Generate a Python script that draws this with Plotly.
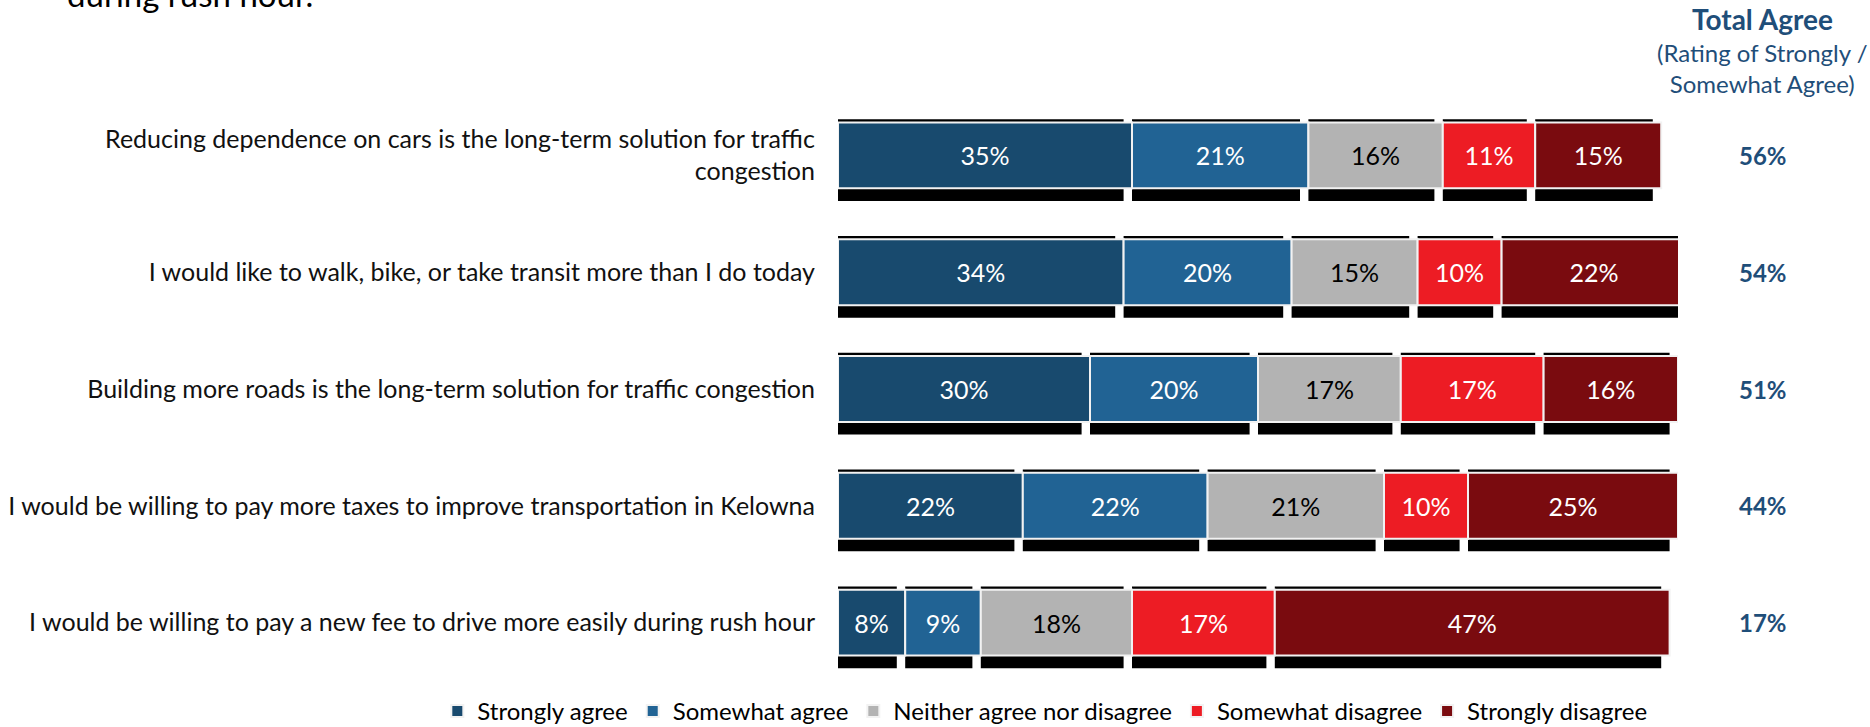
import plotly.graph_objects as go

statements = [
    "Reducing dependence on cars is the long-term solution for traffic<br>congestion",
    "I would like to walk, bike, or take transit more than I do today",
    "Building more roads is the long-term solution for traffic congestion",
    "I would be willing to pay more taxes to improve transportation in Kelowna",
    "I would be willing to pay a new fee to drive more easily during rush hour",
]
strongly_agree = [35, 34, 30, 22, 8]
somewhat_agree = [21, 20, 20, 22, 9]
neither = [16, 15, 17, 21, 18]
somewhat_disagree = [11, 10, 17, 10, 17]
strongly_disagree = [15, 22, 16, 25, 47]
total_agree = [56, 54, 51, 44, 17]

series_names = ["Strongly agree", "Somewhat agree", "Neither agree nor disagree",
                "Somewhat disagree", "Strongly disagree"]
series_values = [strongly_agree, somewhat_agree, neither, somewhat_disagree, strongly_disagree]
colors = ["#184a6e", "#216394", "#b3b3b3", "#ed1c24", "#7a0b0f"]
text_colors = ["white", "white", "black", "white", "white"]

FONT = "Lato, sans-serif"
BLUE = "#1f4e79"

# running start of each segment
starts = []
acc = [0] * len(statements)
for vals in series_values:
    starts.append(list(acc))
    acc = [a + v for a, v in zip(acc, vals)]

fig = go.Figure()

# drop shadows behind each segment
for vals, base in zip(series_values, starts):
    fig.add_trace(go.Bar(
        y=statements, x=[v - 1 for v in vals], base=base, orientation="h",
        width=0.70, offset=-0.31, marker=dict(color="black", line=dict(width=0)),
        showlegend=False, hoverinfo="skip"))

for name, vals, base, col, tcol in zip(series_names, series_values, starts, colors, text_colors):
    fig.add_trace(go.Bar(
        y=statements, x=vals, base=base, orientation="h", name=name,
        width=0.564, offset=-0.282,
        marker=dict(color=col, line=dict(color="#f2f2f2", width=2)),
        text=[f"{v}%" for v in vals], textposition="inside", insidetextanchor="middle",
        textangle=0, constraintext="none",
        insidetextfont=dict(family=FONT, size=25, color=tcol)))

# Total agree column
fig.add_annotation(x=1.101, y=1.133, xref="paper", yref="paper", xanchor="center",
                   yanchor="middle", showarrow=False,
                   text="<b>Total Agree</b>", font=dict(family=FONT, size=28, color=BLUE))
fig.add_annotation(x=1.101, y=1.049, xref="paper", yref="paper", xanchor="center",
                   yanchor="middle", showarrow=False,
                   text="(Rating of Strongly /<br>Somewhat Agree)",
                   font=dict(family=FONT, size=24, color=BLUE))
for s, t in zip(statements, total_agree):
    fig.add_annotation(x=1.101, y=s, xref="paper", yref="y", xanchor="center",
                       yanchor="middle", showarrow=False,
                       text=f"<b>{t}%</b>", font=dict(family=FONT, size=24, color=BLUE))

# title cut off at the top edge
fig.add_annotation(x=-0.92, y=1.139, xref="paper", yref="paper", xanchor="left",
                   yanchor="bottom", showarrow=False, text="during rush hour.",
                   font=dict(family=FONT, size=33, color="black"))

fig.update_layout(
    barmode="overlay",
    width=1870, height=727,
    margin=dict(l=838, r=192, t=97, b=46, autoexpand=False),
    plot_bgcolor="white", paper_bgcolor="white",
    font=dict(family=FONT, size=25, color="#111111"),
    legend=dict(orientation="h", xref="paper", yref="paper",
                x=-0.477, xanchor="left", y=-0.052, yanchor="middle",
                font=dict(family=FONT, size=24, color="black"), traceorder="normal"),
)
fig.update_xaxes(range=[0, 100], visible=False)
fig.update_yaxes(autorange="reversed", showgrid=False, showline=False, ticks="",
                 ticklabelstandoff=22, tickfont=dict(family=FONT, size=25, color="#111111"))

fig.write_html("out.html", config={"displayModeBar": False},
               post_script="document.body.style.margin='0';")
